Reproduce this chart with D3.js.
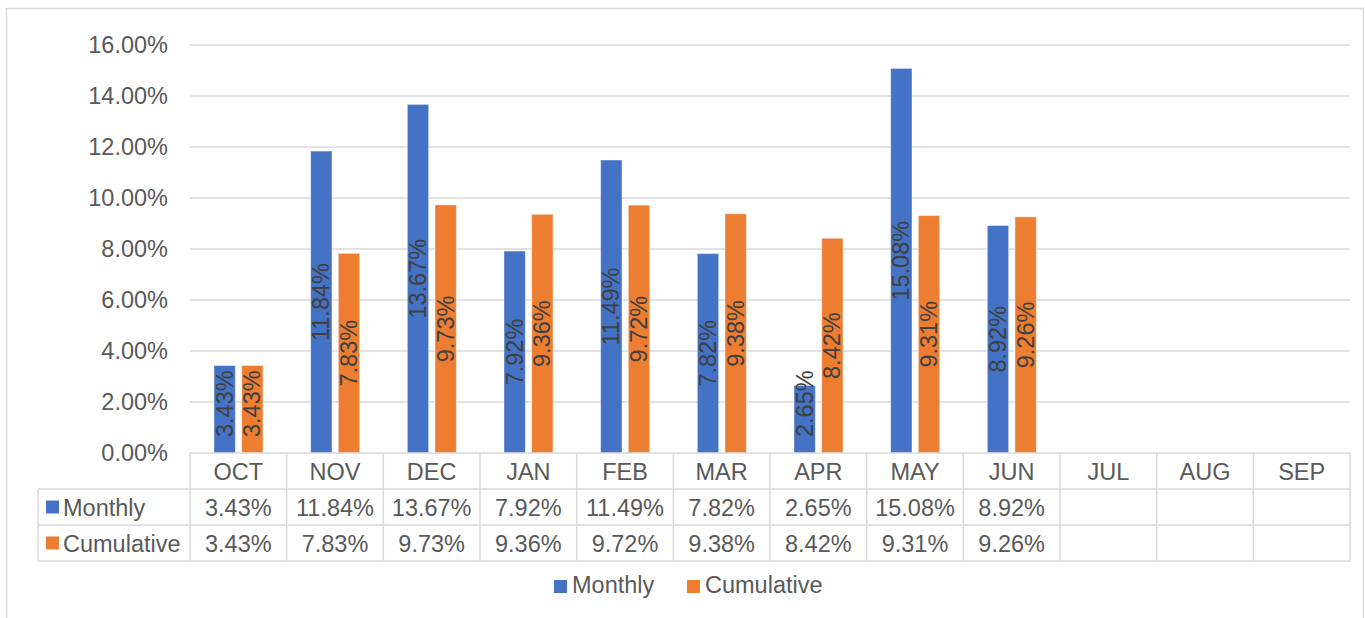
<!DOCTYPE html>
<html>
<head>
<meta charset="utf-8">
<script src="https://cdn.jsdelivr.net/npm/d3@7"></script>
<style>
  body { margin: 0; background: #fff; }
  svg { display: block; font-family: "Liberation Sans", Arial, sans-serif; }
</style>
</head>
<body>
<div id="chart"></div>
<script>
// data
const months = ["OCT", "NOV", "DEC", "JAN", "FEB", "MAR", "APR", "MAY", "JUN", "JUL", "AUG", "SEP"]
const monthly = [3.43, 11.84, 13.67, 7.92, 11.49, 7.82, 2.65, 15.08, 8.92, null, null, null]
const cumulative = [3.43, 7.83, 9.73, 9.36, 9.72, 9.38, 8.42, 9.31, 9.26, null, null, null]
const seriesNames = ["Monthly", "Cumulative"]
const yTicks = [0, 2, 4, 6, 8, 10, 12, 14, 16]

const width = 1365, height = 618
const margin = { top: 45, right: 15, bottom: 165, left: 190 }
const fontSize = 23.5
const gridColor = "#d9d9d9"
const colors = d3.scaleOrdinal(seriesNames, ["#4472C4", "#ED7D31"])

const svg = d3.select("#chart").append("svg")
    .attr("width", width)
    .attr("height", height)

// outer chart border
svg.append("rect")
    .attr("x", 6.5).attr("y", 8.5)
    .attr("width", 1357).attr("height", 640)
    .attr("fill", "none")
    .attr("stroke", gridColor)
    .attr("stroke-width", 1.5)

const x = d3.scaleBand(months, [margin.left, width - margin.right])
const xs = d3.scaleBand(seriesNames, [24, 73]).paddingInner(0.23)
const y = d3.scaleLinear([0, 16], [height - margin.bottom, margin.top])

// gridlines
svg.append("g")
    .selectAll("line")
    .data(yTicks.slice(1))
    .join("line")
    .attr("x1", margin.left)
    .attr("x2", width - margin.right)
    .attr("y1", d => y(d))
    .attr("y2", d => y(d))
    .attr("stroke", gridColor)
    .attr("stroke-width", 1.5)

// y axis labels
svg.append("g")
    .attr("transform", `translate(${margin.left - 22},0)`)
    .call(d3.axisLeft(y).tickValues(yTicks).tickSize(0).tickPadding(0).tickFormat(d => d.toFixed(2) + "%"))
    .call(g => g.select(".domain").remove())
    .call(g => g.selectAll("text")
        .attr("font-size", fontSize)
        .attr("font-family", "Liberation Sans, Arial, sans-serif")
        .attr("fill", "#595959"))

// bars
const rows = months.map((m, i) => ({ month: m, values: [monthly[i], cumulative[i]] }))
const groups = svg.append("g")
    .selectAll("g")
    .data(rows)
    .join("g")
    .attr("transform", d => `translate(${x(d.month)},0)`)

const bars = groups.selectAll("g")
    .data(d => seriesNames.map((s, j) => ({ key: s, value: d.values[j] })).filter(v => v.value != null))
    .join("g")

bars.append("rect")
    .attr("x", d => xs(d.key))
    .attr("width", xs.bandwidth())
    .attr("y", d => y(d.value))
    .attr("height", d => y(0) - y(d.value))
    .attr("fill", d => colors(d.key))
    .attr("stroke", "#fff")
    .attr("stroke-opacity", 0.4)
    .attr("stroke-width", 1)

// rotated labels, centered in the bar but kept above the base
bars.append("text")
    .text(d => d.value.toFixed(2) + "%")
    .attr("font-size", fontSize)
    .attr("fill", "#404040")
    .attr("text-anchor", "middle")
    .attr("dominant-baseline", "central")
    .attr("transform", function (d) {
        const len = this.getComputedTextLength()
        const cy = Math.min((y(d.value) + y(0)) / 2, y(0) - 16 - len / 2)
        const cx = xs(d.key) + xs.bandwidth() / 2
        return `translate(${cx},${cy}) rotate(-90)`
    })

// data table
const t0 = y(0), rowH = 36
const tableLeft = 38
const table = svg.append("g")
    .attr("stroke", gridColor)
    .attr("stroke-width", 1.5)

// horizontal lines
table.append("line").attr("x1", margin.left).attr("x2", width - margin.right).attr("y1", t0).attr("y2", t0)
;[1, 2, 3].forEach(r => {
    table.append("line")
        .attr("x1", tableLeft).attr("x2", width - margin.right)
        .attr("y1", t0 + r * rowH).attr("y2", t0 + r * rowH)
})
// vertical lines
table.selectAll("line.v")
    .data(months.map(m => x(m)).concat([width - margin.right]))
    .join("line")
    .attr("class", "v")
    .attr("x1", d => d).attr("x2", d => d)
    .attr("y1", t0).attr("y2", t0 + 3 * rowH)
table.append("line").attr("x1", tableLeft).attr("x2", tableLeft).attr("y1", t0 + rowH).attr("y2", t0 + 3 * rowH)

const txt = svg.append("g")
    .attr("font-size", fontSize)
    .attr("fill", "#595959")

txt.selectAll("text.month")
    .data(months)
    .join("text")
    .attr("class", "month")
    .attr("x", d => x(d) + x.bandwidth() / 2)
    .attr("y", t0 + rowH / 2 + 8.5)
    .attr("text-anchor", "middle")
    .text(d => d)

;[monthly, cumulative].forEach((vals, r) => {
    const cy = t0 + (r + 1) * rowH + rowH / 2
    txt.selectAll("text.r" + r)
        .data(vals.map((v, i) => ({ v, m: months[i] })).filter(d => d.v != null))
        .join("text")
        .attr("x", d => x(d.m) + x.bandwidth() / 2)
        .attr("y", cy + 8.5)
        .attr("text-anchor", "middle")
        .text(d => d.v.toFixed(2) + "%")

    svg.append("rect")
        .attr("x", 46).attr("y", cy - 6.5)
        .attr("width", 13).attr("height", 13)
        .attr("fill", colors(seriesNames[r]))
    txt.append("text")
        .attr("x", 63)
        .attr("y", cy + 8.5)
        .text(seriesNames[r])
})

// legend
const legend = svg.append("g")
    .attr("transform", "translate(554,580)")
const legendX = [0, 133]
seriesNames.forEach((s, i) => {
    legend.append("rect")
        .attr("x", legendX[i]).attr("y", 0)
        .attr("width", 13).attr("height", 13)
        .attr("fill", colors(s))
    legend.append("text")
        .attr("x", legendX[i] + 18)
        .attr("y", 13)
        .attr("font-size", fontSize)
        .attr("fill", "#595959")
        .text(s)
})
</script>
</body>
</html>
